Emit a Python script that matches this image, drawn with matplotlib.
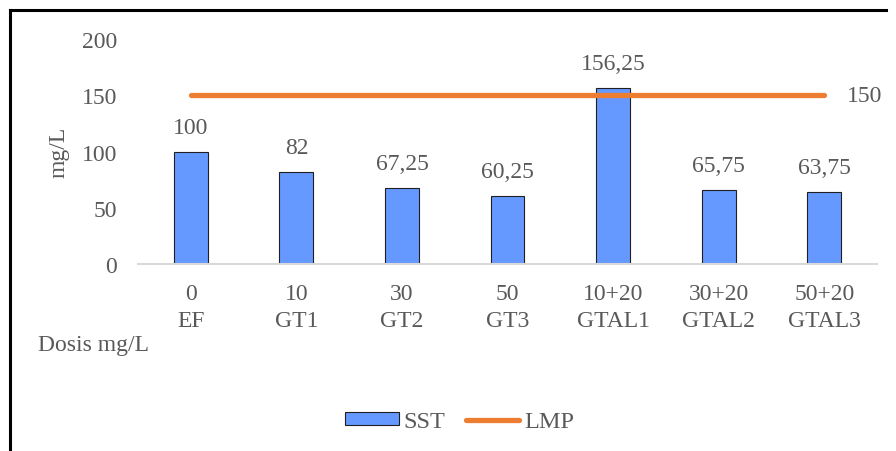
import matplotlib
matplotlib.use("Agg")
import matplotlib.pyplot as plt
from matplotlib.lines import Line2D
from matplotlib.patches import Patch

# data
doses = ["0", "10", "30", "50", "10+20", "30+20", "50+20"]
groups = ["EF", "GT1", "GT2", "GT3", "GTAL1", "GTAL2", "GTAL3"]
sst = [100, 82, 67.25, 60.25, 156.25, 65.75, 63.75]
lmp = [150, 150, 150, 150, 150, 150, 150]

bar_color = "#6699FF"
line_color = "#ED7D31"
text_color = "#595959"

plt.rcParams["font.family"] = ["Liberation Serif", "DejaVu Serif"]
plt.rcParams["font.size"] = 17

fig = plt.figure(figsize=(8.96, 4.52), dpi=100)
ax = fig.add_axes([0.154, 0.4137, 0.825, 0.4978])

x = list(range(len(doses)))
ax.bar(x, sst, width=0.32, color=bar_color, edgecolor="#1f1f1f", linewidth=0.8, zorder=2)
ax.plot(x, lmp, color=line_color, linewidth=3.8, solid_capstyle="round", zorder=3)

def fmt(v):
    s = ("%.2f" % v).rstrip("0").rstrip(".")
    return s.replace(".", ",")

for xi, v in zip(x, sst):
    ax.annotate(fmt(v), (xi, v), xytext=(0, 10), textcoords="offset points",
                ha="center", va="bottom", color=text_color, fontsize=17)
ax.annotate(fmt(lmp[-1]), (x[-1], lmp[-1]), xytext=(16, 0), textcoords="offset points",
            ha="left", va="center", color=text_color, fontsize=17)

ax.set_xlim(-0.5, len(doses) - 0.5)
ax.set_ylim(0, 200)
ax.set_yticks([0, 50, 100, 150, 200])
ax.set_xticks(x)
ax.set_xticklabels([d + "\n" + g for d, g in zip(doses, groups)], linespacing=1.35)
ax.tick_params(axis="both", length=0, colors=text_color, labelsize=17)
ax.tick_params(axis="y", pad=15)
ax.tick_params(axis="x", pad=14)

for s in ["top", "right", "left"]:
    ax.spines[s].set_visible(False)
ax.spines["bottom"].set_color("#D9D9D9")
ax.spines["bottom"].set_linewidth(1.5)

ax.set_ylabel("mg/L", color=text_color, fontsize=17)
ax.yaxis.set_label_coords(-0.093, 0.5)

fig.text(38 / 896, 1 - 345 / 452, "Dosis mg/L", ha="left", va="center",
         color=text_color, fontsize=17)

handles = [Patch(facecolor=bar_color, edgecolor="#1f1f1f", linewidth=0.8),
           Line2D([0], [0], color=line_color, linewidth=3.8, solid_capstyle="round")]
fig.legend(handles, ["SST", "LMP"], loc="center", bbox_to_anchor=(0.513, 1 - 423 / 452),
           ncol=2, frameon=False, handlelength=2.2, handleheight=0.45,
           handletextpad=0.2, columnspacing=0.85, labelcolor=text_color, fontsize=17.5)

# outer frame (top and left only)
fig.add_artist(Line2D([10 / 896, 886 / 896], [1 - 11 / 452, 1 - 11 / 452],
                      transform=fig.transFigure, color="black", linewidth=2.2))
fig.add_artist(Line2D([10 / 896, 10 / 896], [1 - 11 / 452, 0],
                      transform=fig.transFigure, color="black", linewidth=2.2))

fig.savefig("out.png", dpi=100)
